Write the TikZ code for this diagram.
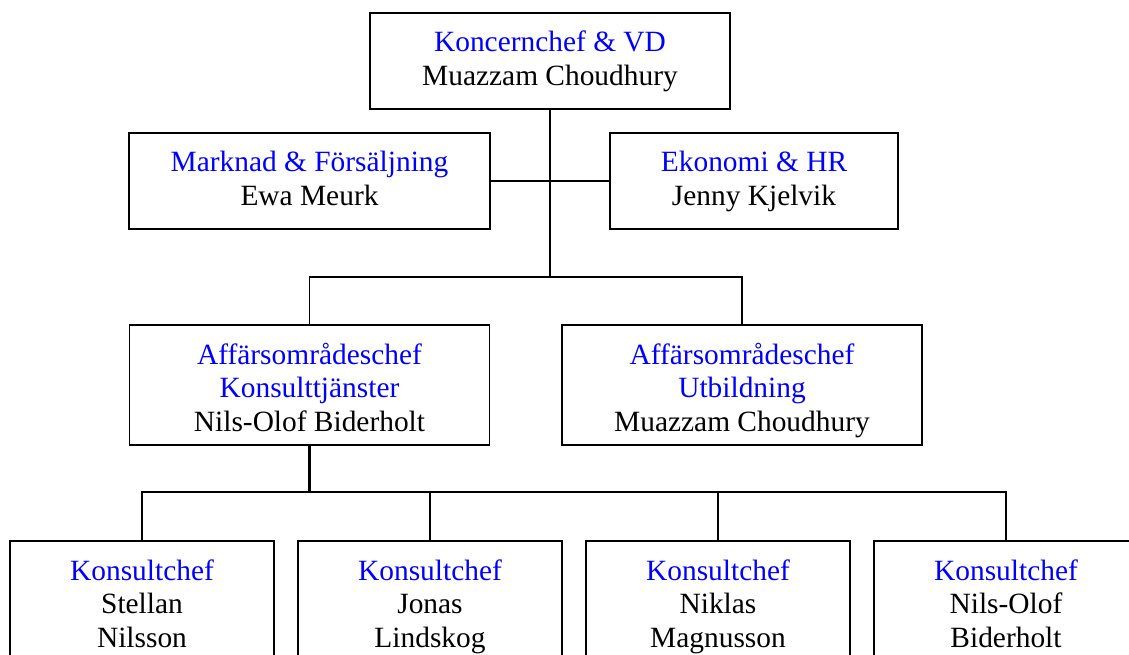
\documentclass[tikz,border=0pt]{standalone}
\usepackage{fontspec}
\setmainfont{Liberation Serif}
\usepackage{tikz}
\usetikzlibrary{positioning}

\begin{document}
\begin{tikzpicture}
		[x=1pt, y=-1pt, inner sep=0pt, font=\fontsize{29.4}{33.9}\selectfont,
		unit/.style		= {rectangle,draw,line width=1.5pt,align=flush center,inner sep=0pt,text height=39pt},
		head/.style		= {unit,text width=360pt,text depth=57pt},
		staff/.style	= {unit,text depth=57pt},
		area/.style		= {unit,text width=360pt,text depth=81pt},
		team/.style		= {unit,text width=264pt,text depth=81pt},
		trunk/.style	= {line width=2.6pt},
		link/.style		= {line width=1.6pt}]
		
		\clip (0,0) rectangle (1129,655);
		
		\node at (550, 61)		[head]					(vd)	{\textcolor{blue}{Koncernchef \& VD}\\Muazzam Choudhury};
		
		\node at (309.5, 181)	[staff,text width=361pt]	(mf)	{\textcolor{blue}{Marknad \& Försäljning}\\Ewa Meurk};
		\node at (754, 181)		[staff,text width=288pt]	(hr)	{\textcolor{blue}{Ekonomi \& HR}\\Jenny Kjelvik};
		
		\node at (309.5, 385)	[area]	(ak)	{\textcolor{blue}{Affärsområdeschef}\\\textcolor{blue}{Konsulttjänster}\\Nils-Olof Biderholt};
		\node at (742, 385)		[area]	(au)	{\textcolor{blue}{Affärsområdeschef}\\\textcolor{blue}{Utbildning}\\Muazzam Choudhury};
		
		\node at (142, 601)		[team]	(k1)	{\textcolor{blue}{Konsultchef}\\Stellan\\Nilsson};
		\node at (430, 601)		[team]	(k2)	{\textcolor{blue}{Konsultchef}\\Jonas\\Lindskog};
		\node at (718, 601)		[team]	(k3)	{\textcolor{blue}{Konsultchef}\\Niklas\\Magnusson};
		\node at (1006, 601)	[team]	(k4)	{\textcolor{blue}{Konsultchef}\\Nils-Olof\\Biderholt};
		
		\coordinate (j1) at (550, 277);
		\coordinate (j2) at (309.5, 492);
		
		\draw [trunk] (vd.south) -- (j1);
		\draw [link] (mf.east) -- (hr.west);
		\draw [link] (ak.north) |- (j1) -| (au.north);
		
		\draw [trunk] (ak.south) -- (j2);
		\draw [link] (k1.north) |- (j2) -| (k4.north);
		\draw [link] (k2.north) -- (k2.north |- j2);
		\draw [link] (k3.north) -- (k3.north |- j2);
		
\end{tikzpicture}
\end{document}
